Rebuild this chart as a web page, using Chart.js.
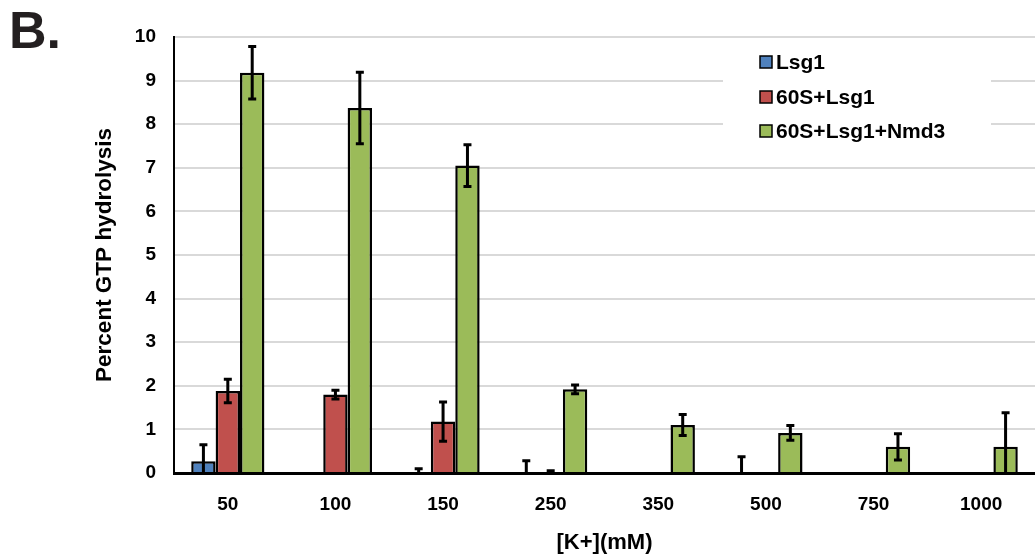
<!DOCTYPE html>
<html>
<head>
<meta charset="utf-8">
<script src="https://cdn.jsdelivr.net/npm/chart.js"></script>
<style>
  body { margin: 0; background: #fff; }
  #wrap { position: relative; width: 1035px; height: 556px; overflow: hidden; }
  #panel { position: absolute; left: 9px; top: 0px; font: bold 52px "Liberation Sans", Arial, sans-serif; color: #231f20; }
</style>
</head>
<body>
<div id="wrap">
  <canvas id="gtp" width="1035" height="556"></canvas>
  <div id="panel">B.</div>
</div>
<script>
// [K+] concentrations (mM)
const potassium = ["50", "100", "150", "250", "350", "500", "750", "1000"];
const yTicks = [0, 1, 2, 3, 4, 5, 6, 7, 8, 9, 10];

const seriesNames = ["Lsg1", "60S+Lsg1", "60S+Lsg1+Nmd3"];
const lsg1 = [0.27, 0, 0, 0, 0, 0, 0, 0];
const lsg1Err = [0.38, 0, 0.1, 0.28, 0, 0.37, 0, 0];
const ribLsg1 = [1.88, 1.8, 1.18, 0, 0, 0, 0, 0];
const ribLsg1Err = [0.27, 0.1, 0.45, 0.05, 0, 0, 0, 0];
const ribLsg1Nmd3 = [9.18, 8.37, 7.05, 1.92, 1.1, 0.92, 0.6, 0.6];
const ribLsg1Nmd3Err = [0.6, 0.82, 0.48, 0.1, 0.24, 0.17, 0.3, 0.78];

const fills = ["#4f81bd", "#c0504d", "#9bbb59"];
const FONT = '"Liberation Sans", Arial, sans-serif';

// error bars drawn over the bars, clipped to the plot area
const errorBars = {
  id: "errorBars",
  afterDatasetsDraw(chart) {
    const ctx = chart.ctx, y = chart.scales.y, area = chart.chartArea;
    ctx.save();
    ctx.beginPath();
    ctx.rect(area.left, area.top - 10, area.right - area.left, area.bottom - area.top + 10);
    ctx.clip();
    ctx.strokeStyle = "#000";
    ctx.lineWidth = 3;
    chart.data.datasets.forEach((ds, i) => {
      chart.getDatasetMeta(i).data.forEach((bar, j) => {
        const e = ds.errors[j];
        if (!e) return;
        const v = ds.data[j];
        const top = y.getPixelForValue(v + e), bot = y.getPixelForValue(v - e);
        ctx.beginPath();
        ctx.moveTo(bar.x, top); ctx.lineTo(bar.x, bot);
        ctx.moveTo(bar.x - 4, top); ctx.lineTo(bar.x + 4, top);
        ctx.moveTo(bar.x - 4, bot); ctx.lineTo(bar.x + 4, bot);
        ctx.stroke();
      });
    });
    ctx.restore();
  }
};

// legend box sitting inside the plot, top right
const boxLegend = {
  id: "boxLegend",
  afterDraw(chart) {
    const ctx = chart.ctx;
    ctx.save();
    ctx.fillStyle = "#fff";
    ctx.fillRect(723, 45, 268, 108);
    ctx.font = "bold 21px " + FONT;
    ctx.textBaseline = "middle";
    const rows = [62, 97, 131];
    seriesNames.forEach((name, i) => {
      ctx.fillStyle = fills[i];
      ctx.fillRect(760, rows[i] - 6, 12, 12);
      ctx.strokeStyle = "#000";
      ctx.lineWidth = 1.5;
      ctx.strokeRect(760, rows[i] - 6, 12, 12);
      ctx.fillStyle = "#000";
      ctx.fillText(name, 776, rows[i] + 1);
    });
    ctx.restore();
  }
};

const seriesData = [lsg1, ribLsg1, ribLsg1Nmd3];
const seriesErr = [lsg1Err, ribLsg1Err, ribLsg1Nmd3Err];

new Chart(document.getElementById("gtp"), {
  type: "bar",
  data: {
    labels: potassium,
    datasets: seriesNames.map((name, i) => ({
      label: name,
      data: seriesData[i],
      errors: seriesErr[i],
      backgroundColor: fills[i],
      borderColor: "#000",
      borderWidth: 2.5,
      categoryPercentage: 0.68,
      barPercentage: 1
    }))
  },
  options: {
    responsive: false,
    animation: false,
    layout: { padding: { top: 37, right: -10, left: 0, bottom: 0 } },
    plugins: { legend: { display: false }, tooltip: { enabled: false } },
    scales: {
      x: {
        grid: { display: false, drawTicks: false },
        border: { display: true, color: "#000", width: 3 },
        ticks: { color: "#000", font: { family: FONT, size: 19, weight: "bold" }, padding: 20 },
        title: {
          display: true, text: "[K+](mM)", color: "#000",
          font: { family: FONT, size: 22, weight: "bold" },
          padding: { top: 7, bottom: 0 }
        },
        afterFit(s) { s.height = 83; }
      },
      y: {
        min: 0, max: 10,
        afterBuildTicks(s) { s.ticks = yTicks.map(v => ({ value: v })); },
        grid: { color: "#d9d9d9", lineWidth: 2, drawTicks: false },
        border: { display: true, color: "#000", width: 2 },
        ticks: { color: "#000", font: { family: FONT, size: 19, weight: "bold" }, padding: 18 },
        title: {
          display: true, text: "Percent GTP hydrolysis", color: "#000",
          font: { family: FONT, size: 22.5, weight: "bold" },
          padding: { top: 91, bottom: 0 }
        },
        afterFit(s) { s.width = 174; }
      }
    }
  },
  plugins: [errorBars, boxLegend]
});
</script>
</body>
</html>
